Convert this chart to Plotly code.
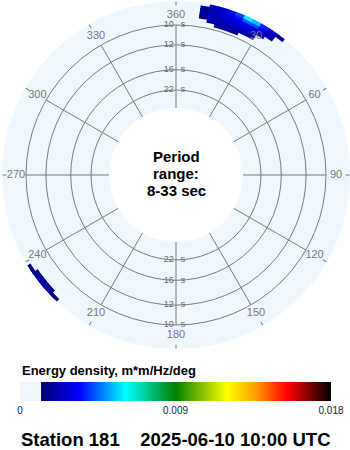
import plotly.graph_objects as go

# ---------------- data ----------------
# frequency bin edges (Hz) of the spectral cells that carry energy
freq_edges = [0.1000, 0.1025, 0.1050, 0.1075, 0.1100, 0.1125, 0.1150, 0.1175, 0.1200]
# direction bin centres (deg, compass, clockwise from north)
directions = [10, 13, 16, 19, 22, 25, 28, 31, 34, 37, 225, 228, 231, 234, 237]
dir_width = 3
# energy density, m*m/Hz/deg   rows: frequency bins (low -> high), cols: directions
energy = [
    [0,      0,      0,      0,      0,      0,      0,      0,      0,      0,      0,      0,      0,      0,      0],
    [0,      0,      0.0018, 0.0019, 0.0018, 0,      0,      0,      0,      0,      0,      0,      0,      0,      0],
    [0,      0.0019, 0.0021, 0.0022, 0.0022, 0.0021, 0.0018, 0,      0,      0,      0,      0,      0,      0,      0],
    [0.0017, 0.0021, 0.0023, 0.0024, 0.0025, 0.0025, 0.0023, 0,      0,      0,      0,      0,      0,      0,      0],
    [0.0019, 0.0022, 0.0024, 0.0026, 0.0027, 0.0028, 0.0026, 0.0022, 0,      0,      0,      0,      0,      0,      0],
    [0.0019, 0.0022, 0.0025, 0.0028, 0.0031, 0.0034, 0.0032, 0.0027, 0.0020, 0,      0,      0,      0,      0,      0],
    [0.0018, 0.0023, 0.0026, 0.0030, 0.0036, 0.0044, 0.0042, 0.0032, 0.0023, 0,      0,      0.0016, 0.0018, 0.0017, 0],
    [0,      0.0024, 0.0027, 0.0032, 0.0042, 0.0060, 0.0054, 0.0038, 0.0026, 0.0018, 0.0016, 0.0019, 0.0020, 0.0019, 0.0017],
]
ring_periods = [10, 12, 16, 22]                 # s
period_range = [8, 33]                          # s
angle_ticks = [0, 30, 60, 90, 120, 150, 180, 210, 240, 270, 300, 330]
angle_labels = ["360", "30", "60", "90", "120", "150", "180", "210", "240", "270", "300", "330"]
e_min, e_max = 0.0, 0.018
cbar_ticks = [0, 0.009, 0.018]
cbar_labels = ["0", "0.009", "0.018"]
station = "181"
stamp = "2025-06-10 10:00 UTC"

# ---------------- styling ----------------
FONT = "Liberation Sans, Arial, sans-serif"
GRID = "#7a7a7a"
BG = "#f0f8ff"
f_inner = 1.0 / period_range[1]
f_outer = 0.12014
label_r = 0.1084
colorscale = [
    [0.0, BG], [0.0675, BG],
    [0.0675, "#000070"],
    [0.19, "#0000ff"],
    [0.34, "#00ffff"],
    [0.50, "#008000"],
    [0.665, "#ffff00"],
    [0.76, "#ff9900"],
    [0.86, "#ff0000"],
    [1.0, "#000000"],
]

# cells with energy
cell_theta, cell_base, cell_len, cell_val = [], [], [], []
for i in range(len(freq_edges) - 1):
    for j, d in enumerate(directions):
        v = energy[i][j]
        if v > 0:
            cell_theta.append(d)
            cell_base.append(freq_edges[i])
            cell_len.append(freq_edges[i + 1] - freq_edges[i])
            cell_val.append(v)

fig = go.Figure()

# spokes (inner edge to the 10 s ring)
sp_r, sp_t = [], []
for a in angle_ticks:
    sp_r += [f_inner, 1.0 / ring_periods[0], None]
    sp_t += [a, a, None]
fig.add_trace(go.Scatterpolar(r=sp_r, theta=sp_t, mode="lines",
                              line=dict(color=GRID, width=1),
                              hoverinfo="skip", showlegend=False))

fig.add_trace(go.Barpolar(
    theta=cell_theta, r=cell_len, base=cell_base, width=[dir_width] * len(cell_theta),
    marker=dict(color=cell_val, colorscale=colorscale, cmin=e_min, cmax=e_max,
                line=dict(width=1.2, color=cell_val, colorscale=colorscale,
                          cmin=e_min, cmax=e_max),
                colorbar=dict(orientation="h", x=20 / 350, xanchor="left",
                              y=(450 - 412) / 450, yanchor="bottom",
                              len=311 / 350, lenmode="fraction",
                              thickness=19, thicknessmode="pixels",
                              xpad=0, ypad=0, outlinewidth=0, ticks="",
                              tickvals=cbar_ticks, ticktext=cbar_labels,
                              tickfont=dict(size=10, color="#222", family=FONT))),
    showlegend=False, hoverinfo="skip"))

# ring labels on the 0 and 180 deg lines
for th in (0, 180):
    fig.add_trace(go.Scatterpolar(r=[1.0 / p for p in ring_periods], theta=[th] * 4,
                                  mode="markers+text", text=[str(p) for p in ring_periods],
                                  textposition="middle left",
                                  marker=dict(size=2, opacity=0),
                                  textfont=dict(size=9, color="#666", family=FONT),
                                  hoverinfo="skip", showlegend=False))
    fig.add_trace(go.Scatterpolar(r=[1.0 / p for p in ring_periods], theta=[th] * 4,
                                  mode="markers+text", text=["s"] * 4,
                                  textposition="middle right",
                                  marker=dict(size=6, opacity=0),
                                  textfont=dict(size=9, color="#666", family=FONT),
                                  hoverinfo="skip", showlegend=False))

# direction labels inside the disk
fig.add_trace(go.Scatterpolar(r=[label_r] * len(angle_ticks), theta=angle_ticks,
                              mode="text", text=angle_labels, textposition="middle center",
                              textfont=dict(size=11, color="#777", family=FONT),
                              hoverinfo="skip", showlegend=False))

cx = 176 / 350
def py(px):
    return (450 - px) / 450

ann = []
for txt, ypx in (("Period", 156), ("range:", 173), ("%d-%d sec" % tuple(period_range), 190)):
    ann.append(dict(text="<b>%s</b>" % txt, x=cx, y=py(ypx), xref="paper", yref="paper",
                    xanchor="center", yanchor="middle", showarrow=False,
                    font=dict(size=15, color="#000", family=FONT)))
ann.append(dict(text="<b>Energy density, m*m/Hz/deg</b>", x=20 / 350, y=py(370),
                xref="paper", yref="paper", xanchor="left", yanchor="middle",
                showarrow=False, font=dict(size=13, color="#000", family=FONT)))
ann.append(dict(text="<b>Station %s\u00a0\u00a0\u00a0\u00a0%s</b>" % (station, stamp),
                x=19 / 350, y=py(439), xref="paper", yref="paper",
                xanchor="left", yanchor="middle", showarrow=False,
                font=dict(size=18.5, color="#000", family=FONT)))

fig.update_layout(
    width=350, height=450, margin=dict(l=0, r=0, t=0, b=0),
    paper_bgcolor="white", font=dict(family=FONT),
    annotations=ann,
    polar=dict(
        domain=dict(x=[2 / 350, 1.0], y=[py(349), py(1)]),
        hole=66.9 / 174,
        bgcolor=BG,
        radialaxis=dict(range=[f_inner, f_outer], tickvals=[1.0 / p for p in ring_periods],
                        showticklabels=False, ticks="", showline=False,
                        gridcolor=GRID, gridwidth=1, layer="below traces"),
        angularaxis=dict(rotation=90, direction="clockwise", tickmode="array",
                         tickvals=angle_ticks, showticklabels=False,
                         ticks="inside", ticklen=4, tickcolor=GRID,
                         showgrid=False, showline=False, layer="below traces"),
    ),
)

fig.write_html("out.html")
